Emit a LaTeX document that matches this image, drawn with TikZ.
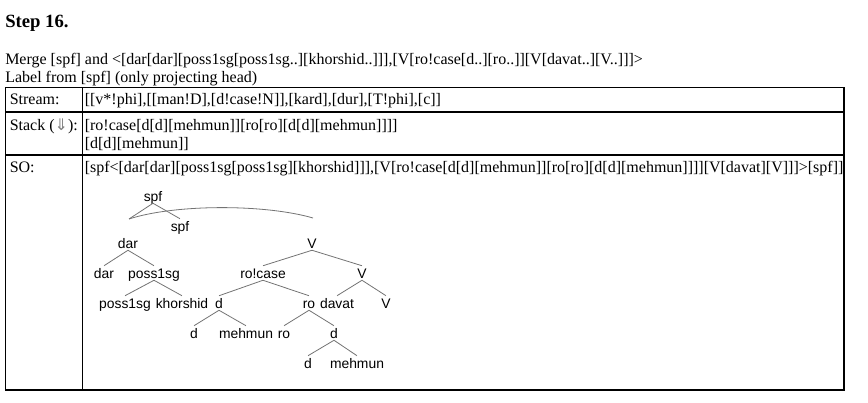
\documentclass[tikz,border=0pt]{standalone}
\usepackage{fontspec}
\setmainfont{Liberation Serif}
\newfontfamily\treefont{Liberation Sans}
\newfontfamily\arrowfont{DejaVu Sans}

\begin{document}
\begin{tikzpicture}[
  x=0.75pt, y=-0.75pt,
  txt/.style={anchor=base west, inner sep=0pt,
    font=\fontsize{12}{14}\selectfont},
  lbl/.style={inner xsep=1pt, inner ysep=1.5pt,
    text height=7.5pt, text depth=0pt,
    font=\treefont\fontsize{10.4}{12}\selectfont},
  branch/.style={draw=black!55, line width=0.6pt},
  grid/.style={draw=black, line width=0.8pt}]
  \useasboundingbox (0,0) rectangle (868,403);
  % draw heading and merge description
  \node[txt, font=\bfseries\fontsize{14}{17}\selectfont] (title) at (5,28) {Step 16.};
  \node[txt] (merge) at (5,65)
    {Merge [spf] and <[dar[dar][poss1sg[poss1sg..][khorshid..]]],[V[ro!case[d..][ro..]][V[davat..][V..]]]>};
  \node[txt] (label) at (5,82.5) {Label from [spf] (only projecting head)};
  % draw table frame
  \draw[grid] (5.5,87.5) rectangle (844,390);
  \draw[grid] (5.5,112) -- (844,112);
  \draw[grid] (5.5,155) -- (844,155);
  \draw[grid] (82.5,87.5) -- (82.5,390);
  % draw table rows
  \node[txt] (streamhead) at (9.5,104) {Stream:};
  \node[txt] (stream) at (84.5,104) {[[v*!phi],[[man!D],[d!case!N]],[kard],[dur],[T!phi],[c]]};
  \node[txt] (stackhead) at (9.5,131) {Stack ({\arrowfont\color{gray}⇓}):};
  \node[txt] (stack1) at (84.5,131) {[ro!case[d[d][mehmun]][ro[ro][d[d][mehmun]]]]};
  \node[txt] (stack2) at (84.5,148.5) {[d[d][mehmun]]};
  \node[txt] (sohead) at (9.5,172) {SO:};
  \node[txt] (so) at (84.5,172)
    {[spf<[dar[dar][poss1sg[poss1sg][khorshid]]],[V[ro!case[d[d][mehmun]][ro[ro][d[d][mehmun]]]][V[davat][V]]]>[spf]]};
  % draw tree labels
  \foreach \n/\x/\y/\t in {spf/153/196/spf, spfh/180/226/spf,
      dar/128/243/dar, darh/104/273/dar, poss/154/273/poss1sg,
      possh/125/303/poss1sg, khor/182/303/khorshid,
      V1/312/243/V, roc/263/273/ro!case, V2/362/273/V,
      d1/219/303/d, ro/309/303/ro, davat/337/303/davat, V3/386/303/V,
      d1h/194/333/d, meh1/246/333/mehmun, roh/284/333/ro, d2/334/333/d,
      d2h/308/363/d, meh2/357/363/mehmun}
    \node[lbl] (\n) at (\x,\y) {\t};
  % draw pair ends above its two members
  \coordinate (pairL) at (129,219);
  \coordinate (pairR) at (313,218);
  \draw[branch] (spf.south) -- (pairL);
  \draw[branch] (spf.south) -- (spfh.north);
  \draw[branch] (pairL) .. controls (175,204) and (265,204) .. (pairR);
  % draw branches
  \foreach \a/\b in {dar/darh, dar/poss, poss/possh, poss/khor,
      V1/roc, V1/V2, roc/d1, roc/ro, V2/davat, V2/V3,
      d1/d1h, d1/meh1, ro/roh, ro/d2, d2/d2h, d2/meh2}
    \draw[branch] (\a.south) -- (\b.north);
\end{tikzpicture}
\end{document}
